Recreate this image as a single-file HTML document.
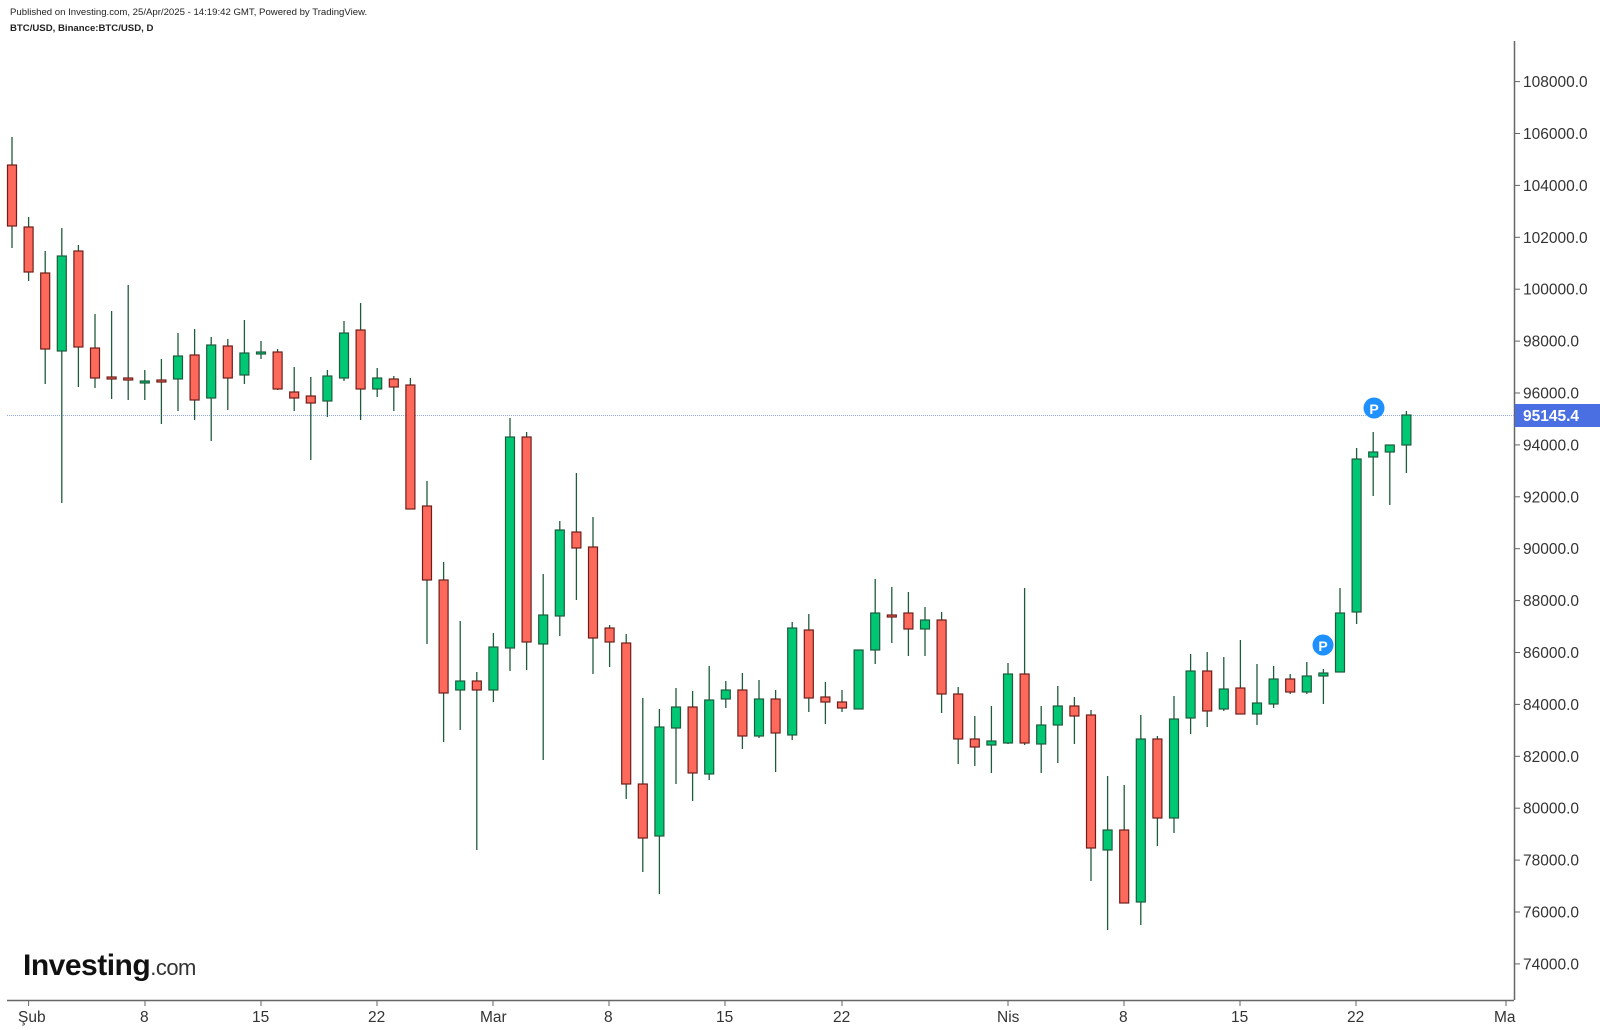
<!DOCTYPE html>
<html><head><meta charset="utf-8"><style>
html,body{margin:0;padding:0;background:#fff;width:1600px;height:1030px;overflow:hidden}
svg{display:block}
text{font-family:"Liberation Sans",Arial,sans-serif}
</style></head><body>
<svg id="s" width="1600" height="1030" xmlns="http://www.w3.org/2000/svg">
<text x="10" y="15" font-size="9.6" fill="#222">Published on Investing.com, 25/Apr/2025 - 14:19:42 GMT, Powered by TradingView.</text>
<text x="10" y="31" font-size="9.6" font-weight="bold" fill="#222">BTC/USD, Binance:BTC/USD, D</text>
<line x1="1514.5" y1="41" x2="1514.5" y2="1000" stroke="#666" stroke-width="1.5"/>
<line x1="7" y1="1000.5" x2="1514" y2="1000.5" stroke="#666" stroke-width="1.5"/>
<line x1="7" y1="415.5" x2="1514" y2="415.5" stroke="#8fa6f5" stroke-width="1" stroke-dasharray="1,1"/>
<g id="yt" font-size="15.5" fill="#333"></g>
<g id="xt" font-size="15.5" fill="#333">
<text x="18" y="1022">Şub</text>
<text x="140" y="1022">8</text>
<text x="252" y="1022">15</text>
<text x="368" y="1022">22</text>
<text x="480" y="1022">Mar</text>
<text x="604" y="1022">8</text>
<text x="716" y="1022">15</text>
<text x="833" y="1022">22</text>
<text x="997" y="1022">Nis</text>
<text x="1119" y="1022">8</text>
<text x="1231" y="1022">15</text>
<text x="1347" y="1022">22</text>
<text x="1494" y="1022">Ma</text>
</g>
<g id="c"></g>
<rect x="1515" y="404" width="85" height="23" fill="#4a6fe3"/>
<text x="1523" y="421" font-size="15.5" fill="#fff" font-weight="bold">95145.4</text>
<circle cx="1323" cy="645" r="10.5" fill="#1e90ff"/>
<text x="1323" y="651" font-size="14" fill="#fff" font-weight="bold" text-anchor="middle">P</text>
<circle cx="1374" cy="408" r="10.5" fill="#1e90ff"/>
<text x="1374" y="414" font-size="14" fill="#fff" font-weight="bold" text-anchor="middle">P</text>
<text x="23" y="975" font-size="30" font-weight="bold" fill="#111" letter-spacing="-0.5">Investing<tspan font-size="22" font-weight="normal" fill="#333">.com</tspan></text>
</svg>
<script>
var ns="http://www.w3.org/2000/svg";
var yt=document.getElementById('yt');
for(var p=74000;p<=108000;p+=2000){var y=393+(96000-p)/2000*51.9;
var l=document.createElementNS(ns,'line');l.setAttribute('x1',1514);l.setAttribute('x2',1520);l.setAttribute('y1',y);l.setAttribute('y2',y);l.setAttribute('stroke','#666');yt.appendChild(l);
var t=document.createElementNS(ns,'text');t.setAttribute('x',1523);t.setAttribute('y',y+5.5);t.textContent=p+'.0';yt.appendChild(t);}
var dx=[28.6,145,261,377,493,609,725,842,1008,1124,1240,1356,1506];
var xt=document.getElementById('xt');
dx.forEach(function(x){var l=document.createElementNS(ns,'line');l.setAttribute('x1',x);l.setAttribute('x2',x);l.setAttribute('y1',1000);l.setAttribute('y2',1006);l.setAttribute('stroke','#666');xt.appendChild(l);});
var D=[
[137,248,165,226,'r'],[217,281,227,272,'r'],[251,384,273,349,'r'],[228,503,256,351,'g'],[245,387,251,347,'r'],
[314,388,348,378,'r'],[311,399,377,379,'r'],[285,400,378,380,'r'],[370,400,381,383,'g'],[359,424,380,382,'r'],
[333,411,356,379,'g'],[329,420,355,400,'r'],[337,441,345,398,'g'],[339,410,346,378,'r'],[320,384,353,375,'g'],
[341,359,352,354,'g'],[349,390,352,389,'r'],[367,411,392,398,'r'],[377,460,396,403,'r'],[370,417,376,401,'g'],
[321,381,333,378,'g'],[303,420,330,389,'r'],[368,397,378,389,'g'],[376,411,379,387,'r'],[378,509,385,509,'r'],
[481,644,506,580,'r'],[562,742,580,693,'r'],[621,730,681,690,'g'],[672,850,681,690,'r'],[633,702,647,690,'g'],
[418,671,437,648,'g'],[432,670,437,642,'r'],[574,760,615,644,'g'],[521,636,530,616,'g'],[473,600,532,548,'r'],
[517,674,547,638,'r'],[625,667,628,642,'r'],[634,799,643,784,'r'],[698,872,784,838,'r'],[709,894,727,836,'g'],
[688,784,707,728,'g'],[691,801,707,773,'r'],[666,780,700,774,'g'],[681,708,690,699,'g'],[673,749,690,736,'r'],
[680,738,699,736,'g'],[690,772,699,733,'r'],[622,740,628,735,'g'],[614,712,630,698,'r'],[682,724,697,702,'r'],
[690,712,702,708,'r'],[650,709,650,709,'g'],[579,664,613,650,'g'],[587,643,615,617,'r'],[592,656,613,629,'r'],
[607,656,620,629,'g'],[612,713,620,694,'r'],[687,764,694,739,'r'],[716,766,739,747,'r'],[706,773,741,745,'g'],
[663,744,674,743,'g'],[588,745,674,743,'r'],[706,773,725,744,'g'],[686,763,706,725,'g'],[697,744,706,716,'r'],
[710,881,715,848,'r'],[776,930,830,850,'g'],[785,870,830,903,'r'],[715,925,739,902,'g'],[736,846,739,818,'r'],
[696,833,719,818,'g'],[654,734,671,718,'g'],[652,727,671,711,'r'],[657,711,689,709,'g'],[640,714,688,714,'r'],
[664,725,703,714,'g'],[666,708,679,704,'g'],[674,694,679,692,'r'],[662,694,676,692,'g'],[669,704,673,676,'g'],
[588,672,613,672,'g'],[448,624,459,612,'g'],[432,496,452,457,'g'],[445,505,445,452,'g'],[411,473,415,445,'g']];
var g=document.getElementById('c');
D.forEach(function(d,i){var x=12+16.6*i;
var l=document.createElementNS(ns,'line');l.setAttribute('x1',x);l.setAttribute('x2',x);l.setAttribute('y1',d[0]);l.setAttribute('y2',d[1]);l.setAttribute('stroke','#1f5c3c');l.setAttribute('stroke-width',1.3);g.appendChild(l);
var r=document.createElementNS(ns,'rect');var h=Math.max(d[3]-d[2],2);
r.setAttribute('x',x-4.5);r.setAttribute('y',d[2]);r.setAttribute('width',9);r.setAttribute('height',h);
r.setAttribute('fill',d[4]=='r'?'#fd6a5c':'#00c774');r.setAttribute('stroke',d[4]=='r'?'#6e1e1a':'#1f5c3c');r.setAttribute('stroke-width',1.2);g.appendChild(r);});
</script>
</body></html>
